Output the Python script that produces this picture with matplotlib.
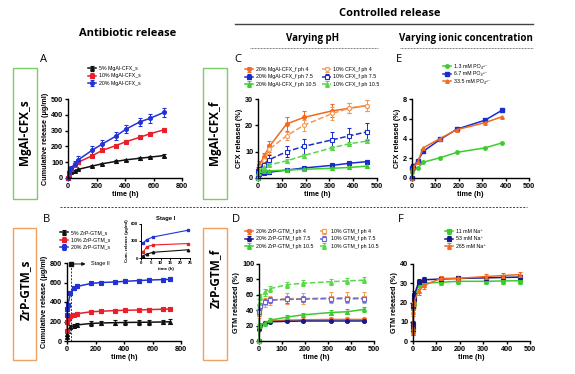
import numpy as np
import matplotlib
matplotlib.use("Agg")
import matplotlib.pyplot as plt
from matplotlib.patches import Rectangle
from matplotlib.lines import Line2D

plt.rcParams['font.family'] = ['Liberation Sans', 'DejaVu Sans']

W, H = 575, 374

# ---- panel A: MgAl-CFX_s cumulative release
tA = [0, 6, 24, 48, 72, 168, 240, 336, 408, 504, 576, 672]
A5 = [0, 20, 35, 45, 55, 75, 90, 105, 115, 125, 132, 142]
A5e = [0, 3, 4, 4, 5, 6, 6, 7, 7, 8, 8, 8]
A10 = [0, 30, 60, 85, 100, 140, 175, 205, 230, 258, 280, 305]
A10e = [0, 5, 6, 6, 8, 8, 10, 10, 10, 10, 10, 12]
A20 = [0, 35, 65, 90, 115, 175, 215, 265, 310, 355, 378, 415]
A20e = [0, 8, 10, 15, 25, 25, 28, 25, 28, 25, 30, 30]

# ---- panel B: ZrP-GTM_s cumulative release
tB = [1, 3, 6, 24, 48, 72, 168, 240, 336, 408, 504, 576, 672, 720]
B5 = [40, 70, 100, 145, 155, 165, 180, 185, 188, 190, 192, 193, 195, 197]
B5e = [10, 15, 15, 20, 20, 20, 25, 25, 25, 25, 25, 25, 25, 25]
B10 = [100, 200, 230, 255, 270, 280, 300, 305, 312, 315, 318, 322, 326, 328]
B10e = [10, 15, 15, 15, 15, 15, 15, 15, 15, 15, 15, 15, 15, 15]
B20 = [265, 325, 370, 490, 545, 560, 590, 600, 605, 612, 620, 625, 630, 632]
B20e = [10, 15, 15, 20, 20, 20, 20, 20, 20, 20, 20, 20, 20, 20]

# ---- panel C: MgAl-CFX_f, varying pH
tC = [0, 2, 6, 24, 48, 120, 192, 312, 384, 456]
C20_4 = [0, 3, 5, 8, 12, 20.5, 23, 25.5, 26.5, 27.5]
C20_4e = [0, 1, 1.5, 1.5, 2, 2.5, 2.5, 2.5, 2, 2]
C10_4 = [0, 3, 4, 7, 11, 16, 20, 24.5, 26.5, 27.5]
C10_4e = [0, 1, 1.5, 2, 2, 1.5, 2, 2.5, 2, 2]
C20_7 = [0, 1, 1.5, 1.8, 2.2, 3, 3.8, 4.8, 5.6, 6.2]
C20_7e = [0, 0.3, 0.4, 0.4, 0.5, 0.5, 0.5, 0.5, 0.5, 0.6]
C10_7 = [0, 2.5, 3.5, 5, 7, 10, 12, 14.5, 16, 17.5]
C10_7e = [0, 0.8, 1, 1.5, 1.8, 2.2, 2.8, 2.8, 3, 3.2]
C20_10 = [0, 1.5, 2, 2.5, 2.7, 3, 3.3, 3.7, 4, 4.5]
C20_10e = [0, 0.3, 0.3, 0.4, 0.5, 0.5, 0.6, 0.6, 0.7, 0.8]
C10_10 = [0, 2, 3, 4, 5, 6.5, 8.5, 11.5, 13, 14]
C10_10e = [0, 0.5, 0.5, 0.6, 0.6, 0.7, 0.8, 0.8, 0.8, 0.8]

# ---- panel D: ZrP-GTM_f, varying pH
tD = [0, 2, 6, 24, 48, 120, 192, 312, 384, 456]
D20_4 = [0, 15, 20, 24, 26, 27, 27.5, 28, 28, 28]
D20_4e = [0, 2, 2, 1.5, 1.5, 1.5, 1.5, 1.5, 1.5, 1.5]
D10_4 = [0, 35, 45, 50, 53, 55, 55, 56, 56, 56]
D10_4e = [0, 5, 5, 6, 6, 7, 7, 7, 7, 7]
D20_7 = [0, 15, 20, 23, 25, 25.5, 26, 26, 26, 26]
D20_7e = [0, 1, 1, 1, 1, 1, 1, 1, 1, 1]
D10_7 = [0, 38, 46, 51, 53, 54, 54.5, 55, 55, 55]
D10_7e = [0, 4, 4, 4, 4, 4, 4, 4, 4, 4]
D20_10 = [0, 20, 21, 23, 27, 31, 34, 37, 38, 41]
D20_10e = [0, 2, 2, 3, 3, 3, 3, 3, 3, 3]
D10_10 = [0, 50, 57, 63, 68, 73, 75, 77, 78, 79]
D10_10e = [0, 4, 4, 4, 4, 4, 4, 4, 4, 4]

# ---- panel E: CFX, varying phosphate
tE = [0, 2, 6, 24, 48, 120, 192, 312, 384]
E13 = [0, 0.6, 0.9, 1.0, 1.6, 2.05, 2.6, 3.05, 3.55]
E67 = [0, 1.0, 1.2, 1.7, 2.7, 3.9, 4.95, 5.85, 6.85]
E335 = [0, 0.9, 1.1, 1.6, 3.05, 4.0, 4.9, 5.6, 6.2]

# ---- panel F: GTM, varying Na+
tF = [0, 1, 2, 4, 6, 24, 48, 120, 192, 312, 384, 456]
F11 = [5, 8, 17, 20, 22, 29, 30, 30.5, 31, 31, 31.2, 31.3]
F11e = [1, 1.5, 2, 2, 2, 2, 2, 1.5, 1.5, 1.5, 1.5, 1.5]
F53 = [6, 9, 18, 22, 24, 30.5, 31.8, 32.2, 32.5, 32.8, 33, 33.2]
F53e = [1, 1.5, 2, 2, 2, 1.5, 1.5, 1.2, 1.2, 1.2, 1.2, 1.2]
F265 = [4, 7, 15, 19, 21, 26, 29, 32.5, 32.5, 33.5, 34, 34.5]
F265e = [1, 1.5, 2, 2, 2, 2, 2, 1.5, 1.5, 1.5, 1.5, 1.5]

BLACK, RED, BLUE = '#111111', '#e8202a', '#2233d6'
ORANGE, LORANGE = '#f06a22', '#f59a55'
CBLUE, NAVY, PURP = '#1a2ecc', '#1a1a8a', '#6a6ad0'
GREEN, LGREEN = '#3ccc2e', '#5ad84a'

fig = plt.figure(figsize=(W / 100, H / 100), dpi=100)


def ax_px(l, t, r, b):
    return fig.add_axes([l / W, 1 - b / H, (r - l) / W, (b - t) / H])


def style(ax, xlim, ylim, xt, yt, ylabel, xlabel='time (h)', fs=5.2):
    ax.set_xlim(*xlim)
    ax.set_ylim(*ylim)
    ax.set_xticks(xt)
    ax.set_yticks(yt)
    for s in ['top', 'right']:
        ax.spines[s].set_visible(False)
    for s in ['left', 'bottom']:
        ax.spines[s].set_linewidth(1.0)
    ax.tick_params(length=2.5, width=1.0, pad=1, labelsize=fs)
    for lab in ax.get_xticklabels() + ax.get_yticklabels():
        lab.set_fontweight('bold')
    ax.set_ylabel(ylabel, fontsize=fs, fontweight='bold', labelpad=1.5)
    if xlabel:
        ax.set_xlabel(xlabel, fontsize=fs, fontweight='bold', labelpad=1)


def series(ax, t, y, e, color, marker, ls='-', mfc=None, label=None, ms=2.8, lw=1.1):
    ax.errorbar(t, y, yerr=e, color=color, marker=marker, ls=ls, lw=lw, ms=ms,
                mfc=color if mfc is None else mfc, mec=color, mew=0.8,
                elinewidth=0.7, capsize=1.5, capthick=0.7, label=label, clip_on=False)


def legend(ax, x, y, ncol=1, colsp=1.0, fs=3.8):
    ax.legend(loc='upper left', bbox_to_anchor=(x / W, 1 - y / H),
              bbox_transform=fig.transFigure, frameon=False, fontsize=fs, ncol=ncol,
              handlelength=1.6, handletextpad=0.5, labelspacing=0.45, borderpad=0,
              borderaxespad=0, columnspacing=colsp)


# ---------------- A
axA = ax_px(68, 99, 182, 178)
series(axA, tA, A5, A5e, BLACK, '^', label='5% MgAl-CFX_s')
series(axA, tA, A10, A10e, RED, 's', label='10% MgAl-CFX_s')
series(axA, tA, A20, A20e, BLUE, 'o', label='20% MgAl-CFX_s')
style(axA, (0, 800), (0, 500), range(0, 801, 200), range(0, 501, 100),
      'Cumulative release (\u03bcg/ml)')
legend(axA, 88, 66)

# ---------------- B
axB = ax_px(67, 263, 181, 341)
series(axB, tB, B5, B5e, BLACK, '^', label='5% ZrP-GTM_s')
series(axB, tB, B10, B10e, RED, 's', label='10% ZrP-GTM_s')
series(axB, tB, B20, B20e, BLUE, 's', label='20% ZrP-GTM_s')
style(axB, (0, 800), (0, 800), range(0, 801, 200), range(0, 801, 200),
      'Cumulative release (\u03bcg/ml)')
axB.axvline(30, color='#333333', lw=0.7, ls=(0, (2, 1.5)))
axB.plot([30], [790], 's', color=BLACK, ms=2.5, clip_on=False)
axB.annotate('', xy=(150, 790), xytext=(30, 790),
             arrowprops=dict(arrowstyle='-|>', color=BLACK, lw=0.7, mutation_scale=5))
axB.text(165, 790, 'Stage II', fontsize=4, va='center')
legend(axB, 60, 230)

# inset
axI = ax_px(141, 224, 190, 258)
n24 = 4
axI.plot(tB[:n24], B5[:n24], '-^', color=BLACK, ms=1.8, lw=0.8, clip_on=False)
axI.plot(tB[:n24], B10[:n24], '-s', color=RED, ms=1.8, lw=0.8, clip_on=False)
axI.plot(tB[:n24], B20[:n24], '-s', color=BLUE, ms=1.8, lw=0.8, clip_on=False)
style(axI, (0, 25), (0, 600), range(0, 26, 5), [0, 300, 600],
      'Cum. release (\u03bcg/ml)', fs=3.2)
axI.tick_params(length=1.5, width=0.7, pad=0.8)
for s in ['left', 'bottom']:
    axI.spines[s].set_linewidth(0.7)
axI.set_title('Stage I', fontsize=4.2, fontweight='bold', pad=3)

# ---------------- C
axC = ax_px(258, 99, 377, 178)
series(axC, tC, C20_4, C20_4e, ORANGE, 'o', label='20% MgAl-CFX_f ph 4')
series(axC, tC, C20_7, C20_7e, CBLUE, 's', label='20% MgAl-CFX_f ph 7.5')
series(axC, tC, C20_10, C20_10e, GREEN, '^', label='20% MgAl-CFX_f ph 10.5')
series(axC, tC, C10_4, C10_4e, LORANGE, 'o', ls='--', mfc='white', label='10% CFX_f ph 4')
series(axC, tC, C10_7, C10_7e, CBLUE, 's', ls='--', mfc='white', ms=3.5, label='10% CFX_f ph 7.5')
series(axC, tC, C10_10, C10_10e, LGREEN, '^', ls='--', label='10% CFX_f ph 10.5')
style(axC, (0, 500), (0, 30), range(0, 501, 100), range(0, 31, 10),
      'CFX released (%)')
legend(axC, 245, 67, ncol=2, colsp=1.2)

# ---------------- D
axD = ax_px(259, 264, 374, 341)
series(axD, tD, D20_4, D20_4e, ORANGE, 'o', label='20% ZrP-GTM_f ph 4')
series(axD, tD, D20_7, D20_7e, NAVY, 'o', label='20% ZrP-GTM_f ph 7.5')
series(axD, tD, D20_10, D20_10e, GREEN, '^', label='20% ZrP-GTM_f ph 10.5')
series(axD, tD, D10_4, D10_4e, LORANGE, 's', ls='--', mfc='white', label='10% GTM_f ph 4')
series(axD, tD, D10_7, D10_7e, PURP, 's', ls='--', mfc='white', label='10% GTM_f ph 7.5')
series(axD, tD, D10_10, D10_10e, LGREEN, '^', ls='--', label='10% GTM_f ph 10.5')
style(axD, (0, 500), (0, 100), range(0, 501, 100), range(0, 101, 20),
      'GTM released (%)')
legend(axD, 245, 229, ncol=2, colsp=1.2)

# ---------------- E
axE = ax_px(412, 99, 529, 178)
axE.plot(tE, E13, '-o', color=GREEN, ms=2.5, lw=1.1, label='1.3 mM PO\u2084\u00b3\u207b', clip_on=False)
axE.plot(tE, E67, '-s', color=CBLUE, ms=2.5, lw=1.1, label='6.7 mM PO\u2084\u00b3\u207b', clip_on=False)
axE.plot(tE, E335, '-^', color=ORANGE, ms=2.5, lw=1.1, label='33.5 mM PO\u2084\u00b3\u207b', clip_on=False)
style(axE, (0, 500), (0, 8), range(0, 501, 100), range(0, 9, 2),
      'CFX released (%)')
legend(axE, 443, 64)

# ---------------- F
axF = ax_px(413, 264, 530, 341)
series(axF, tF, F11, F11e, GREEN, 's', label='11 mM Na\u207a')
series(axF, tF, F53, F53e, NAVY, 's', label='53 mM Na\u207a')
series(axF, tF, F265, F265e, ORANGE, '^', label='265 mM Na\u207a')
style(axF, (0, 500), (0, 40), range(0, 501, 100), range(0, 41, 10),
      'GTM released (%)')
legend(axF, 445, 229)

# ---------------- headings, boxes, separators
def ftext(x, y, s, **kw):
    fig.text(x / W, 1 - y / H, s, **kw)


def fline(x0, x1, y, **kw):
    fig.add_artist(Line2D([x0 / W, x1 / W], [1 - y / H, 1 - y / H], **kw))


def fbox(l, t, r, b, color):
    fig.add_artist(Rectangle((l / W, 1 - b / H), (r - l) / W, (b - t) / H,
                             fill=False, ec=color, lw=1.0))


head = dict(family=['Open Sans', 'DejaVu Sans'], fontweight='bold', ha='center', va='center')
ftext(128, 33, 'Antibiotic release', fontsize=8, **head)
ftext(390, 14, 'Controlled release', fontsize=8, **head)
ftext(313, 39, 'Varying pH', fontsize=7, **head)
ftext(466, 39, 'Varying ionic concentration', fontsize=7, **head)
fline(235, 533, 24, color='#444444', lw=1.0)
fline(250, 378, 48, color='#555555', lw=0.6, ls=(0, (1, 0.8)))
fline(400, 533, 48, color='#555555', lw=0.6, ls=(0, (1, 0.8)))
fline(60, 527, 207, color='#444444', lw=0.7, ls=(0, (2, 1.5)))

letter = dict(family=['Open Sans', 'DejaVu Sans'], fontsize=8, ha='center', va='center')
for x, y, s in [(44, 59, 'A'), (238, 60, 'C'), (399, 60, 'E'),
                (47, 220, 'B'), (236, 220, 'D'), (401, 220, 'F')]:
    ftext(x, y, s, **letter)

fbox(13, 68, 37, 199, '#7ccc6a')
fbox(13, 228, 36, 360, '#f0a060')
fbox(203, 68, 227, 199, '#7ccc6a')
fbox(203, 228, 227, 360, '#f0a060')
side = dict(family=['Open Sans', 'DejaVu Sans'], fontweight='bold', fontsize=8.5,
            rotation=90, ha='center', va='center')
ftext(25, 132, 'MgAl-CFX_s', **side)
ftext(25, 290, 'ZrP-GTM_s', **side)
ftext(215, 133, 'MgAl-CFX_f', **side)
ftext(215, 278, 'ZrP-GTM_f', **side)

fig.savefig('out.png', dpi=100)
